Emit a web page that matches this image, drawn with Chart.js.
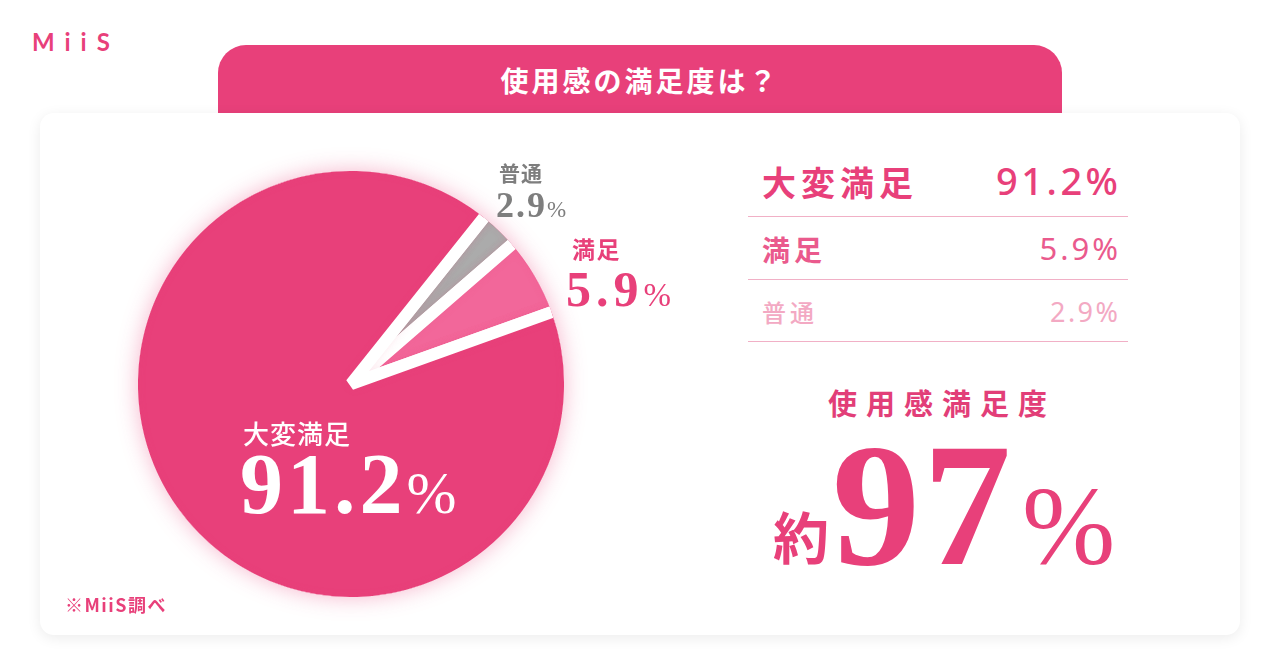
<!DOCTYPE html>
<html lang="ja">
<head>
<meta charset="utf-8">
<script src="https://cdn.jsdelivr.net/npm/chart.js@4.4.1/dist/chart.umd.min.js"></script>
<style>
html,body{margin:0;padding:0;background:#fff;width:1280px;height:670px;overflow:hidden;}
body{position:relative;font-family:"Noto Sans CJK JP","Noto Sans",sans-serif;}
.abs{position:absolute;white-space:nowrap;line-height:1;}
#logo{left:32px;top:30px;font-family:Lato,"Noto Sans",sans-serif;font-weight:700;font-size:24px;letter-spacing:10px;color:#E8407A;}
#tab{left:218px;top:45px;width:844px;height:72px;background:#E8407A;border-radius:28px 28px 0 0;z-index:1;}
#title{left:218px;width:844px;top:66px;text-align:center;color:#fff;font-weight:700;font-size:28px;letter-spacing:3px;z-index:2;}
#card{left:40px;top:113px;width:1200px;height:522px;background:#fff;border-radius:14px;box-shadow:0 3px 14px rgba(0,0,0,0.08);z-index:3;}
#pieWrap{left:101px;top:134px;width:500px;height:500px;z-index:4;}
.lbl{z-index:5;}
.serif{font-family:"Liberation Serif","DejaVu Serif",serif;font-weight:700;}
.pct{font-weight:400;}
.line{position:absolute;left:748px;width:380px;height:1px;background:#F1B0C6;z-index:5;}
#foot{left:65px;top:595px;font-size:18px;font-weight:700;letter-spacing:1.5px;color:#E8407A;z-index:5;}
</style>
</head>
<body>
<div id="logo" class="abs">MiiS</div>
<div id="tab" class="abs"></div>
<div id="title" class="abs">使用感の満足度は？</div>
<div id="card" class="abs"></div>
<div id="pieWrap" class="abs"><canvas id="pie" width="500" height="500"></canvas></div>
<div id="layer"></div>
<div id="foot" class="abs">※MiiS調べ</div>
<script>
// ---- data ----
const categories = ['大変満足', '満足', '普通'];
const values = [91.2, 5.9, 2.9];
const summaryLabel = '使用感満足度';

// ---- styles ----
const sliceColors = ['#E8407A', '#F2679A', '#ABABAB'];
const drawOrder = [2, 1, 0]; // clockwise from the rotation start
const gapWidth = 12;

const glow = {
  id: 'glow',
  beforeDatasetsDraw(c) {
    const arc = c.getDatasetMeta(0).data[0];
    if (!arc) return;
    const ctx = c.ctx;
    const vis = arc.outerRadius - gapWidth / 2;
    ctx.save();
    ctx.shadowColor = 'rgba(232,64,122,0.38)';
    ctx.shadowBlur = 22;
    ctx.fillStyle = sliceColors[0];
    ctx.beginPath();
    ctx.arc(arc.x, arc.y, vis, 0, Math.PI * 2);
    ctx.fill();
    ctx.restore();
    ctx.save();
    ctx.beginPath();
    ctx.arc(arc.x, arc.y, vis, 0, Math.PI * 2);
    ctx.clip();
    ctx.shadowColor = 'rgba(232,64,122,0.10)';
    ctx.shadowBlur = 8;
  },
  afterDatasetsDraw(c) { c.ctx.restore(); }
};

new Chart(document.getElementById('pie'), {
  type: 'pie',
  data: {
    labels: drawOrder.map(i => categories[i]),
    datasets: [{
      data: drawOrder.map(i => values[i]),
      backgroundColor: drawOrder.map(i => sliceColors[i]),
      borderColor: '#ffffff',
      borderWidth: gapWidth,
      radius: 219,
      hoverOffset: 0
    }]
  },
  options: {
    responsive: false,
    animation: false,
    devicePixelRatio: 1,
    events: [],
    rotation: 38.6,
    layout: { padding: 0 },
    plugins: { legend: { display: false }, tooltip: { enabled: false } }
  },
  plugins: [glow]
});

// ---- text layers built from the data ----
const layer = document.getElementById('layer');
function add(html, css) {
  const d = document.createElement('div');
  d.className = 'abs lbl';
  d.innerHTML = html;
  Object.assign(d.style, css);
  layer.appendChild(d);
  return d;
}
function fmt(v) { return v.toFixed(1); }

// pie labels
const pieLabelStyle = [
  { name: { left: '243px', top: '420px', fontSize: '26px', fontWeight: '500', color: '#fff', letterSpacing: '1px' },
    num: { left: '240px', top: '441px', fontSize: '86px', color: '#fff', letterSpacing: '4px' }, pct: '60px' },
  { name: { left: '572px', top: '237px', fontSize: '23px', fontWeight: '700', color: '#E8407A', letterSpacing: '1.5px' },
    num: { left: '566px', top: '264px', fontSize: '50px', color: '#E8407A', letterSpacing: '5px' }, pct: '33px' },
  { name: { left: '499px', top: '162px', fontSize: '21px', fontWeight: '700', color: '#7E7E7E', letterSpacing: '1px' },
    num: { left: '496px', top: '187px', fontSize: '36px', color: '#7E7E7E', letterSpacing: '2px' }, pct: '23px' }
];
categories.forEach((c, i) => {
  const s = pieLabelStyle[i];
  add(c, s.name);
  const n = add(fmt(values[i]) + '<span class="pct" style="font-size:' + s.pct + ';letter-spacing:0">%</span>', s.num);
  n.classList.add('serif');
});

// table
const rowStyle = [
  { nameTop: 165, nameSize: 34, nameLs: 5, numTop: 161, numSize: 38, numLs: 3.5, color: '#E8407A', nw: 700, vw: 500 },
  { nameTop: 235, nameSize: 28, nameLs: 4, numTop: 233, numSize: 31, numLs: 3, color: '#EA5A8D', nw: 700, vw: 400 },
  { nameTop: 300, nameSize: 24, nameLs: 4, numTop: 298, numSize: 27, numLs: 2.5, color: '#F3A9C3', nw: 500, vw: 400 }
];
const lineY = [216, 279, 341];
categories.forEach((c, i) => {
  const s = rowStyle[i];
  add(c, { left: '762px', top: s.nameTop + 'px', fontSize: s.nameSize + 'px', letterSpacing: s.nameLs + 'px', color: s.color, fontWeight: s.nw });
  add(fmt(values[i]) + '%', { right: (1280 - 1118 - s.numLs) + 'px', top: s.numTop + 'px', fontSize: s.numSize + 'px', letterSpacing: s.numLs + 'px', color: s.color, fontWeight: s.vw, fontFamily: '"Noto Sans",sans-serif' });
  const l = document.createElement('div');
  l.className = 'line';
  l.style.top = lineY[i] + 'px';
  layer.appendChild(l);
});

// summary
add(summaryLabel, { left: '828px', top: '388px', fontSize: '29px', fontWeight: '700', letterSpacing: '9px', color: '#E23E78' });
add('約', { left: '773px', top: '507px', fontSize: '56px', fontWeight: '700', color: '#E8407A' });
const total = Math.round(values[0] + values[1]);
const big = add(total + '<span class="pct" style="font-size:112px;margin-left:8px;letter-spacing:0">%</span>',
  { left: '832px', top: '417px', fontSize: '176px', color: '#E8407A', letterSpacing: '3px' });
big.classList.add('serif');
</script>
</body>
</html>
